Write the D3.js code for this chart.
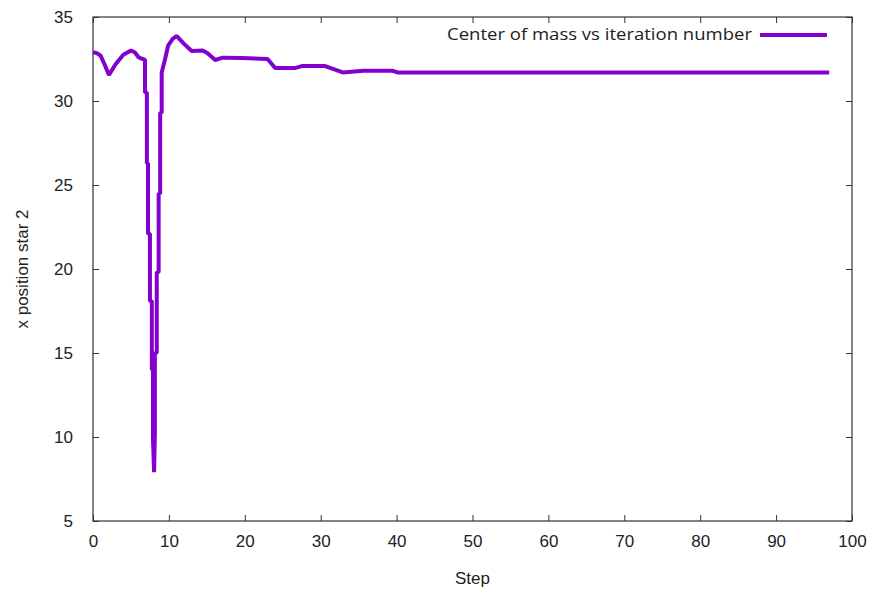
<!DOCTYPE html>
<html>
<head>
<meta charset="utf-8">
<script src="https://cdn.jsdelivr.net/npm/d3@7"></script>
<style>
  body { margin: 0; background: #fff; }
  svg text { fill: #222; }
</style>
</head>
<body>
<div id="chart"></div>
<script>
// chart size
var svgW = 873,
    svgH = 592,
    margin = {top: 17, right: 21, bottom: 71, left: 93};

// step number and x position of star 2 (center of mass run)
var steps = [0, 0.5, 1, 1.5, 2.1, 3, 4, 5, 5.5, 6, 6.85,
             6.85, 7.1, 7.1, 7.25, 7.25, 7.5, 7.5, 7.75, 7.75, 7.9, 7.9, 8.05,
             8.15, 8.15, 8.4, 8.4, 8.65, 8.65, 8.85, 8.85, 9.05, 9.05,
             9.5, 9.9, 10.5, 11.0, 12, 13.0, 14.5, 15.1, 16.1, 17.1,
             19.6, 23.0, 24.0, 26.6, 27.5, 30.6, 32.9, 35.6, 39.5, 40.1, 97];
var xpos  = [32.9, 32.85, 32.7, 32.2, 31.55, 32.2, 32.75, 33.0, 32.9, 32.6, 32.45,
             30.5, 30.5, 26.3, 26.3, 22.1, 22.1, 18.1, 18.1, 14.0, 14.0, 9.9, 7.9,
             10.2, 15.0, 15.0, 19.8, 19.8, 24.5, 24.5, 29.3, 29.3, 31.7,
             32.5, 33.3, 33.7, 33.87, 33.4, 32.98, 33.0, 32.84, 32.44, 32.58,
             32.56, 32.5, 31.96, 31.96, 32.08, 32.08, 31.7, 31.8, 31.8, 31.7, 31.7];

var xTicks = [0, 10, 20, 30, 40, 50, 60, 70, 80, 90, 100];
var yTicks = [5, 10, 15, 20, 25, 30, 35];

var seriesName = 'Center of mass vs iteration number';
var lineColor = '#8300cf';

var w = svgW - margin.left - margin.right,
    h = svgH - margin.top - margin.bottom;

var svg = d3.select('#chart').append('svg')
    .attr('width', svgW)
    .attr('height', svgH);

var g = svg.append('g')
    .attr('transform', 'translate(' + margin.left + ',' + margin.top + ')');

var x = d3.scaleLinear().domain([0, 100]).range([0, w]);
var y = d3.scaleLinear().domain([5, 35]).range([h, 0]);

// axes, ticks pointing inside, mirrored on top and right
function styleAxis(sel) {
    sel.select('.domain').remove();
    sel.selectAll('line').attr('stroke', '#333').attr('stroke-width', 1);
    sel.selectAll('text')
        .style('font-family', '"Liberation Sans", Arial, sans-serif')
        .style('font-size', '17px')
        .attr('fill', '#222');
}

g.append('g')
    .attr('transform', 'translate(0,' + h + ')')
    .call(d3.axisBottom(x).tickValues(xTicks).tickSize(-6).tickPadding(14))
    .call(styleAxis);

g.append('g')
    .call(d3.axisLeft(y).tickValues(yTicks).tickSize(-6).tickPadding(20))
    .call(styleAxis);

g.append('g')
    .call(d3.axisTop(x).tickValues(xTicks).tickSize(-6).tickFormat(''))
    .call(styleAxis);

g.append('g')
    .attr('transform', 'translate(' + w + ',0)')
    .call(d3.axisRight(y).tickValues(yTicks).tickSize(-6).tickFormat(''))
    .call(styleAxis);

// frame
g.append('rect')
    .attr('x', 0).attr('y', 0)
    .attr('width', w).attr('height', h)
    .attr('fill', 'none')
    .attr('stroke', '#333')
    .attr('stroke-width', 1.2);

// data line
var pts = steps.map(function (s, i) { return [s, xpos[i]]; });
var line = d3.line()
    .x(function (d) { return x(d[0]); })
    .y(function (d) { return y(d[1]); });

g.append('path')
    .datum(pts)
    .attr('d', line)
    .attr('fill', 'none')
    .attr('stroke', lineColor)
    .attr('stroke-width', 4)
    .attr('stroke-linejoin', 'bevel');

// key
var key = g.append('g').attr('transform', 'translate(' + (w - 25) + ',18)');
key.append('line')
    .attr('x1', -67).attr('x2', 0)
    .attr('stroke', lineColor)
    .attr('stroke-width', 4);
key.append('text')
    .attr('x', -75).attr('y', 5)
    .attr('text-anchor', 'end')
    .attr('textLength', 305)
    .attr('lengthAdjust', 'spacingAndGlyphs')
    .style('font-family', '"Open Sans", sans-serif')
    .style('font-size', '16px')
    .text(seriesName);

// axis titles
svg.append('text')
    .attr('x', margin.left + w / 2)
    .attr('y', 584)
    .attr('text-anchor', 'middle')
    .style('font-family', '"Liberation Sans", Arial, sans-serif')
    .style('font-size', '17px')
    .text('Step');

svg.append('text')
    .attr('transform', 'translate(28,' + (margin.top + h / 2) + ') rotate(-90)')
    .attr('text-anchor', 'middle')
    .style('font-family', '"Liberation Sans", Arial, sans-serif')
    .style('font-size', '17px')
    .text('x position star 2');
</script>
</body>
</html>
